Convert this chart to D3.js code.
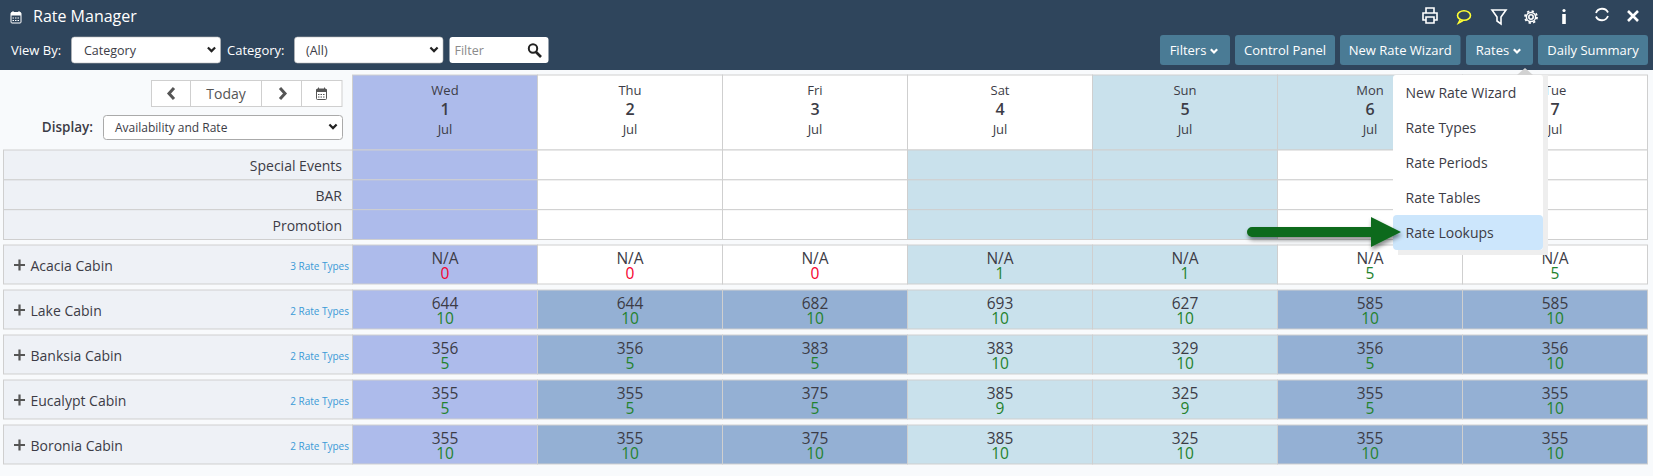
<!DOCTYPE html>
<html>
<head>
<meta charset="utf-8">
<script src="https://cdn.jsdelivr.net/npm/d3@7"></script>
<style>
	html, body { margin: 0; padding: 0; background: #f8fafc; overflow: hidden; }
	text { font-family: "Open Sans", sans-serif; fill: #3c3c46; }
</style>
</head>
<body>
<div class="chart"></div>
<script>
const weekdays = ["Wed", "Thu", "Fri", "Sat", "Sun", "Mon", "Tue"];
const dates = [1, 2, 3, 4, 5, 6, 7];
const infoRows = ["Special Events", "BAR", "Promotion"];
const cabins = ["Acacia Cabin", "Lake Cabin", "Banksia Cabin", "Eucalypt Cabin", "Boronia Cabin"];
const rateTypes = [3, 2, 2, 2, 2];
const rates = [
	["N/A", "N/A", "N/A", "N/A", "N/A", "N/A", "N/A"],
	[644, 644, 682, 693, 627, 585, 585],
	[356, 356, 383, 383, 329, 356, 356],
	[355, 355, 375, 385, 325, 355, 355],
	[355, 355, 375, 385, 325, 355, 355]
];
const avail = [
	[0, 0, 0, 1, 1, 5, 5],
	[10, 10, 10, 10, 10, 10, 10],
	[5, 5, 5, 10, 10, 5, 10],
	[5, 5, 5, 9, 9, 5, 10],
	[10, 10, 10, 10, 10, 10, 10]
];
const menuItems = ["New Rate Wizard", "Rate Types", "Rate Periods", "Rate Tables", "Rate Lookups"];
const toolbarButtons = ["Filters", "Control Panel", "New Rate Wizard", "Rates", "Daily Summary"];

const outWidth = 1653, outHeight = 476;
const navy = "#2f455c", steel = "#4a7b95", line = "#cfcfcf";
const todayFill = "#adbbeb", weekendFill = "#c9e1ec", rateFill = "#94b0d4", panelFill = "#eef1f6";

const svg = d3.select(".chart").append("svg")
	.attr("width", outWidth)
	.attr("height", outHeight)
	.style("display", "block");

const xScale = d3.scaleBand().domain(weekdays).range([352.5, 1647.5]);
const infoScale = d3.scaleBand().domain(infoRows).range([150, 239.5]);
const rowScale = d3.scaleBand().domain(cabins).range([245, 470]);
const rowH = 39;

// column fills differ between the header, the info rows and the rate rows
const headFill = d => d == "Wed" ? todayFill : (d == "Sun" || d == "Mon") ? weekendFill : "#fff";
const infoFill = d => d == "Wed" ? todayFill : (d == "Sat" || d == "Sun") ? weekendFill : "#fff";
const cellFill = (d, r) => {
	if (d == "Wed") return todayFill;
	if (d == "Sat" || d == "Sun") return weekendFill;
	return r == 0 ? "#fff" : rateFill;
};

function label(g, x, y, str, size, anchor, color, weight) {
	return g.append("text")
		.attr("x", x)
		.attr("y", y)
		.attr("text-anchor", anchor || "start")
		.attr("dominant-baseline", "central")
		.style("font-size", size + "px")
		.style("font-weight", weight || 400)
		.style("fill", color || "#3c3c46")
		.text(str);
}

function chevron(g, x, y, color, w) {
	g.append("path")
		.attr("d", `M${x-w},${y-w*0.55}L${x},${y+w*0.45}L${x+w},${y-w*0.55}`)
		.attr("fill", "none")
		.attr("stroke", color)
		.attr("stroke-width", 2.2);
}

function selectBox(g, x, y, w, str, size, textX) {
	g.append("rect").attr("x", x).attr("y", y).attr("width", w).attr("height", 26)
		.attr("rx", 3).attr("fill", "#fff").attr("stroke", "#bbb").attr("stroke-width", 0.6);
	label(g, textX, y + 13, str, size);
	chevron(g, x + w - 9, y + 12.5, "#222", 3.6);
}

function calendar(g, x, y, color) {
	g.append("rect").attr("x", x - 5).attr("y", y - 5).attr("width", 10).attr("height", 10.5)
		.attr("rx", 1).attr("fill", "none").attr("stroke", color).attr("stroke-width", 1);
	g.append("rect").attr("x", x - 5).attr("y", y - 5).attr("width", 10).attr("height", 3).attr("fill", color);
	g.append("path").attr("d", `M${x-3},${y-6.5}V${y-4}M${x+3},${y-6.5}V${y-4}`).attr("stroke", color);
	g.append("path").attr("d", `M${x-3.5},${y+0.5}H${x+3.5}M${x-3.5},${y+3}H${x+3.5}`)
		.attr("stroke", color).attr("stroke-dasharray", "1.5 1");
}

// top bar
const bar = svg.append("g");
bar.append("rect").attr("width", outWidth).attr("height", 70).attr("fill", navy);
calendar(bar, 16, 17.5, "#fff");
label(bar, 33, 15.5, "Rate Manager", 16, "start", "#fff");
label(bar, 11, 49.5, "View By:", 13, "start", "#fff");
selectBox(bar, 71.5, 37, 149, "Category", 12.5, 84);
label(bar, 227, 49.5, "Category:", 13, "start", "#fff");
selectBox(bar, 294.5, 37, 148.5, "(All)", 12.5, 306);
bar.append("rect").attr("x", 449.5).attr("y", 37).attr("width", 99).attr("height", 26)
	.attr("rx", 3).attr("fill", "#fff");
label(bar, 454.5, 50, "Filter", 12.5, "start", "#8b8b8b");
bar.append("circle").attr("cx", 533).attr("cy", 48.5).attr("r", 4.2)
	.attr("fill", "none").attr("stroke", "#222").attr("stroke-width", 2);
bar.append("path").attr("d", "M536,52L541,57").attr("stroke", "#222").attr("stroke-width", 2.6);

// toolbar buttons
const buttonLeft = [1160, 1235, 1340, 1466, 1538];
const buttonRight = [1230, 1335, 1460.5, 1533, 1648];
toolbarButtons.forEach((b, i) => {
	bar.append("rect").attr("x", buttonLeft[i]).attr("y", 35)
		.attr("width", buttonRight[i] - buttonLeft[i]).attr("height", 30)
		.attr("rx", 3).attr("fill", steel);
	const menu = b == "Filters" || b == "Rates";
	const cx = (buttonLeft[i] + buttonRight[i]) / 2 - (menu ? 7 : 0);
	label(bar, cx, 50, b, 13, "middle", "#fff");
	if (menu) chevron(bar, buttonRight[i] - 16, 51, "#fff", 3.2);
});

// top right icons
const ic = bar.append("g").attr("fill", "none").attr("stroke", "#fff").attr("stroke-width", 1.6);
ic.append("path").attr("d", "M1426,13V8H1434V13M1426,20H1423V13H1437V20H1434M1426,17H1434V23H1426Z");
ic.append("ellipse").attr("cx", 1464).attr("cy", 15.5).attr("rx", 6.5).attr("ry", 4.8).attr("stroke", "#ffff33");
ic.append("path").attr("d", "M1460,20L1458.5,23L1463,20.5").attr("stroke", "#ffff33");
ic.append("path").attr("d", "M1492,10H1506L1501,17V24L1497,21V17Z");
ic.append("circle").attr("cx", 1531).attr("cy", 17).attr("r", 2.2);
ic.append("circle").attr("cx", 1531).attr("cy", 17).attr("r", 4.6).attr("stroke-width", 1.5);
ic.append("circle").attr("cx", 1531).attr("cy", 17).attr("r", 6).attr("stroke-width", 1.8).attr("stroke-dasharray", "2.3 2.4");
ic.append("path").attr("d", "M1564,14V24").attr("stroke-width", 3.6);
ic.append("circle").attr("cx", 1564).attr("cy", 10.5).attr("r", 1.6).attr("fill", "#fff").attr("stroke", "none");
ic.append("path").attr("d", "M1596,13A6.5,6.5 0 0 1 1608,12.5M1608,16A6.5,6.5 0 0 1 1596,16.5").attr("stroke-width", 1.8);
ic.append("path").attr("d", "M1628,11L1638,21M1638,11L1628,21").attr("stroke-width", 2.6);

// date navigator
const nav = svg.append("g");
nav.append("rect").attr("x", 151.5).attr("y", 80.5).attr("width", 190.5).attr("height", 26)
	.attr("fill", "#fff").attr("stroke", line);
[190.5, 261.5, 301.5].forEach(x => {
	nav.append("path").attr("d", `M${x},80.5V106.5`).attr("stroke", line);
});
nav.append("path").attr("d", "M174,88L169,93.5L174,99").attr("fill", "none").attr("stroke", "#555").attr("stroke-width", 3);
nav.append("path").attr("d", "M280,88L285,93.5L280,99").attr("fill", "none").attr("stroke", "#555").attr("stroke-width", 3);
label(nav, 226, 93, "Today", 14, "middle", "#555");
calendar(nav, 321.5, 94, "#555");
label(nav, 93, 126.5, "Display:", 13.5, "end", "#3c3c46", 600);
nav.append("rect").attr("x", 103.5).attr("y", 115.5).attr("width", 239).attr("height", 24)
	.attr("rx", 3).attr("fill", "#fff").attr("stroke", "#aaa");
label(nav, 115, 127, "Availability and Rate", 12);
chevron(nav, 333, 126.5, "#222", 3.6);

// day header
const head = svg.append("g");
head.selectAll("rect")
	.data(weekdays)
	.enter()
	.append("rect")
	.attr("x", d => xScale(d))
	.attr("y", 75)
	.attr("width", xScale.bandwidth())
	.attr("height", 75)
	.attr("fill", headFill)
	.attr("stroke", line);
weekdays.forEach((d, i) => {
	const cx = xScale(d) + xScale.bandwidth() / 2;
	label(head, cx, 89.5, d, 13, "middle");
	label(head, cx, 108.5, dates[i], 16, "middle", "#3c3c46", 600);
	label(head, cx, 128.5, "Jul", 13, "middle");
});

// special events / BAR / promotion
const info = svg.append("g");
infoRows.forEach(r => {
	info.append("rect")
		.attr("x", 3.5)
		.attr("y", infoScale(r))
		.attr("width", 349)
		.attr("height", infoScale.bandwidth())
		.attr("fill", panelFill)
		.attr("stroke", line);
	label(info, 342, infoScale(r) + infoScale.bandwidth() / 2 + 0.5, r, 14, "end");
	info.selectAll(null)
		.data(weekdays)
		.enter()
		.append("rect")
		.attr("x", d => xScale(d))
		.attr("y", infoScale(r))
		.attr("width", xScale.bandwidth())
		.attr("height", infoScale.bandwidth())
		.attr("fill", infoFill)
		.attr("stroke", line);
});

// cabin rows
const rows = svg.append("g");
cabins.forEach((c, r) => {
	const y = rowScale(c);
	const mid = y + rowH / 2;
	rows.append("rect")
		.attr("x", 3.5)
		.attr("y", y)
		.attr("width", 349)
		.attr("height", rowH)
		.attr("fill", panelFill)
		.attr("stroke", line);
	rows.append("path")
		.attr("d", `M14,${mid+0.5}H25M19.5,${mid-5}V${mid+6}`)
		.attr("stroke", "#555")
		.attr("stroke-width", 2.2);
	label(rows, 30.5, mid + 0.5, c, 14);
	label(rows, 349, mid + 1, rateTypes[r] + " Rate Types", 10, "end", "#3b9ad6");
	rows.selectAll(null)
		.data(weekdays)
		.enter()
		.append("rect")
		.attr("x", d => xScale(d))
		.attr("y", y)
		.attr("width", xScale.bandwidth())
		.attr("height", rowH)
		.attr("fill", d => cellFill(d, r))
		.attr("stroke", line);
	weekdays.forEach((d, i) => {
		const cx = xScale(d) + xScale.bandwidth() / 2;
		label(rows, cx, y + 12.5, rates[r][i], 15.5, "middle");
		label(rows, cx, y + 28, avail[r][i], 15.5, "middle", avail[r][i] == 0 ? "#f5002d" : "#23822d");
	});
});

// rates dropdown
const dd = svg.append("g");
dd.append("rect").attr("x", 1398).attr("y", 75).attr("width", 150).attr("height", 180).attr("fill", "#eeeeee");
dd.append("path").attr("d", "M1517,75L1525,68L1533,75Z").attr("fill", "#d2d2d2");
dd.append("rect").attr("x", 1393).attr("y", 75).attr("width", 150).attr("height", 175).attr("rx", 3).attr("fill", "#fff");
dd.append("rect").attr("x", 1393).attr("y", 215).attr("width", 150).attr("height", 35).attr("rx", 4).attr("fill", "#cce6fc");
menuItems.forEach((m, i) => {
	label(dd, 1405.5, 92 + i * 35, m, 14);
});

// green arrow pointing at Rate Lookups
const defs = svg.append("defs");
const blur = defs.append("filter").attr("id", "shadow").attr("x", "-10%").attr("y", "-40%").attr("width", "120%").attr("height", "180%");
blur.append("feDropShadow").attr("dx", 1).attr("dy", 3).attr("stdDeviation", 2).attr("flood-color", "#000").attr("flood-opacity", 0.45);
svg.append("path")
	.attr("d", "M1252,227H1371V217L1401,232L1371,247V237H1252A5,5 0 0 1 1252,227Z")
	.attr("fill", "#0d6a1b")
	.attr("filter", "url(#shadow)");
</script>
</body>
</html>
